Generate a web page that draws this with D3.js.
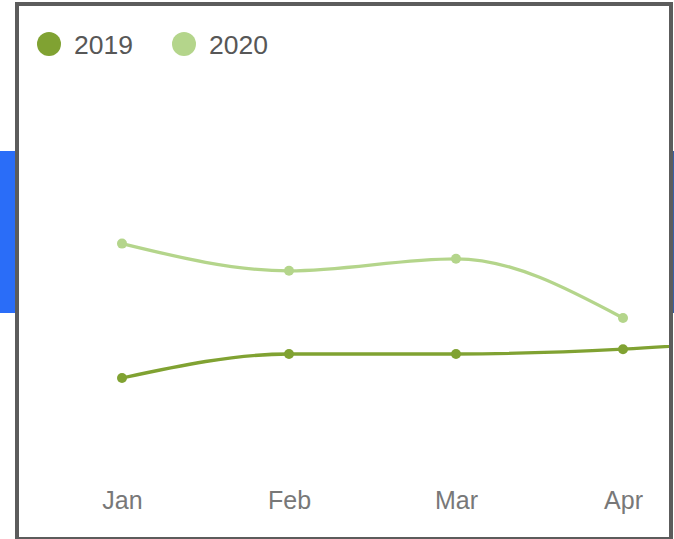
<!DOCTYPE html>
<html>
<head>
<meta charset="utf-8">
<script src="https://cdn.jsdelivr.net/npm/d3@7"></script>
<style>
  html, body { margin: 0; padding: 0; background: #fff; }
  svg { display: block; }
</style>
</head>
<body>
<svg id="chart" width="674" height="539"></svg>
<script>
// Monthly values per year
const months = ["Jan", "Feb", "Mar", "Apr", "May"];
const values2019 = [11.5, 14.5, 14.5, 15.1, 16.6];
const values2020 = [28.3, 24.9, 26.4, 19.0];
const seriesNames = ["2019", "2020"];
const seriesColors = ["#80a232", "#b4d58b"];

const svg = d3.select("#chart");

// Blue panel peeking out behind the frame
svg.append("rect").attr("x", 0).attr("y", 151).attr("width", 16).attr("height", 162).attr("fill", "#2a6df8");
svg.append("rect").attr("x", 672).attr("y", 151).attr("width", 2).attr("height", 162).attr("fill", "#3b5fa8");

// Frame interior
const inner = { x0: 19, y0: 6, x1: 669, y1: 537 };
svg.append("rect")
  .attr("x", inner.x0).attr("y", inner.y0)
  .attr("width", inner.x1 - inner.x0).attr("height", inner.y1 - inner.y0)
  .attr("fill", "#fff");

svg.append("defs").append("clipPath").attr("id", "plotClip")
  .append("rect")
  .attr("x", inner.x0).attr("y", inner.y0)
  .attr("width", inner.x1 - inner.x0).attr("height", inner.y1 - inner.y0);

const plot = svg.append("g").attr("clip-path", "url(#plotClip)");

const x = d3.scalePoint().domain(months).range([122, 790]);
const y = d3.scaleLinear().domain([0, 40]).range([470, 150]);

const series = [
  { name: seriesNames[0], color: seriesColors[0], values: values2019 },
  { name: seriesNames[1], color: seriesColors[1], values: values2020 }
];

const line = d3.line()
  .x((d, i) => x(months[i]))
  .y(d => y(d))
  .curve(d3.curveMonotoneX);

// Lines and points (2020 drawn first so 2019 sits on top)
series.slice().reverse().forEach(s => {
  plot.append("path")
    .datum(s.values)
    .attr("d", line)
    .attr("fill", "none")
    .attr("stroke", s.color)
    .attr("stroke-width", 3.3);
  plot.selectAll(null)
    .data(s.values)
    .join("circle")
    .attr("cx", (d, i) => x(months[i]))
    .attr("cy", d => y(d))
    .attr("r", 5)
    .attr("fill", s.color);
});

// Category axis labels, only for months inside the visible frame
const visibleMonths = months.filter(m => x(m) < inner.x1 - 20);
const xAxis = d3.axisBottom(x).tickValues(visibleMonths).tickSize(0).tickPadding(0);
const axisG = plot.append("g").attr("transform", "translate(0,491)").call(xAxis);
axisG.select(".domain").remove();
axisG.selectAll("text")
  .attr("dy", 0)
  .attr("y", 18)
  .attr("fill", "#787878")
  .style("font-family", "'Liberation Sans', Arial, sans-serif")
  .style("font-size", "25px");

// Legend
const legend = svg.append("g");
const legendX = [49, 184];
series.forEach((s, i) => {
  legend.append("circle")
    .attr("cx", legendX[i]).attr("cy", 44).attr("r", 12)
    .attr("fill", s.color);
  legend.append("text")
    .attr("x", legendX[i] + 25).attr("y", 54)
    .attr("fill", "#575757")
    .style("font-family", "'Liberation Sans', Arial, sans-serif")
    .style("font-size", "26.5px")
    .text(s.name);
});

// Frame border
svg.append("rect")
  .attr("x", 17).attr("y", 4)
  .attr("width", 654).attr("height", 535)
  .attr("fill", "none")
  .attr("stroke", "#5c5c5c")
  .attr("stroke-width", 4);
</script>
</body>
</html>
